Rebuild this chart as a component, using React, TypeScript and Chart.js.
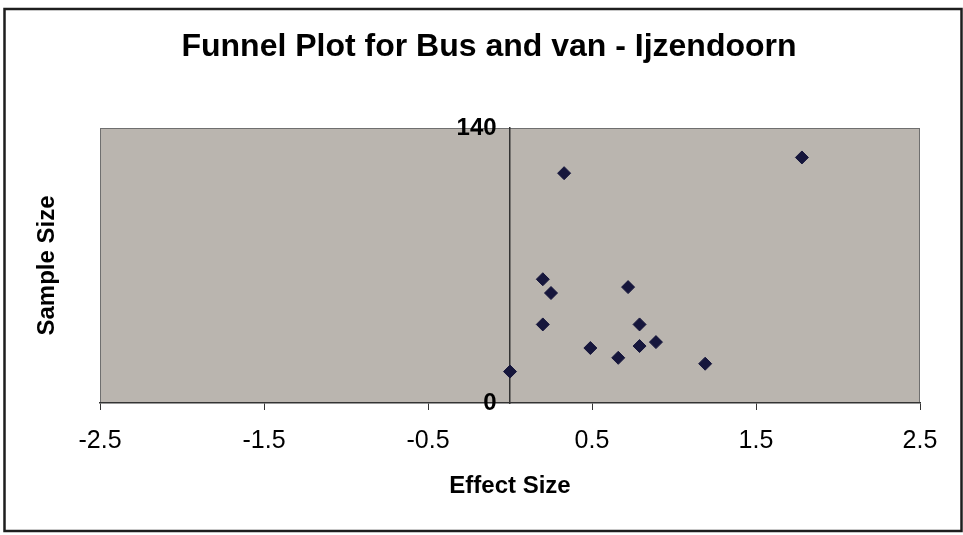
import React, { useEffect, useRef } from "react";
import { Chart, registerables } from "chart.js";

Chart.register(...registerables);

const chartTitle = "Funnel Plot for Bus and van - Ijzendoorn";
const xAxisTitle = "Effect Size";
const yAxisTitle = "Sample Size";
const effectSize = [1.78, 0.33, 0.2, 0.25, 0.72, 0.2, 0.79, 0.79, 0.89, 0.49, 0.66, 1.19, 0.0];
const sampleSize = [125, 117, 63, 56, 59, 40, 40, 29, 31, 28, 23, 20, 16];
const xTicks = [-2.5, -1.5, -0.5, 0.5, 1.5, 2.5];
const yTicks = [0, 140];

const FONT = "Arial, 'Liberation Sans', Helvetica, sans-serif";

const decorPlugin = {
  id: "decor",
  afterLayout(chart: any) {
    // centre the title block a little to the right, as in the reference
    if (chart.titleBlock) {
      chart.titleBlock.left = 58;
      chart.titleBlock.right = 920;
    }
  },
  beforeDraw(chart: any) {
    const { ctx, chartArea } = chart;
    ctx.save();
    ctx.fillStyle = "#ffffff";
    ctx.fillRect(0, 0, chart.width, chart.height);
    ctx.fillStyle = "#bab5af";
    ctx.fillRect(chartArea.left, chartArea.top, chartArea.right - chartArea.left, chartArea.bottom - chartArea.top);
    ctx.strokeStyle = "#6f6f6f";
    ctx.lineWidth = 1;
    ctx.strokeRect(chartArea.left + 0.5, chartArea.top + 0.5, chartArea.right - chartArea.left - 1, chartArea.bottom - chartArea.top - 1);
    // outer frame
    ctx.strokeStyle = "#1e1e1e";
    ctx.lineWidth = 2.5;
    ctx.strokeRect(4.5, 9, chart.width - 6, chart.height - 13);
    ctx.restore();
  },
};

export default function App() {
  const ref = useRef<HTMLCanvasElement | null>(null);
  useEffect(() => {
    if (!ref.current) return;
    const points = effectSize.map((x, i) => ({ x, y: sampleSize[i] }));
    const chart = new Chart(ref.current, {
      type: "scatter",
      data: {
        datasets: [
          {
            data: points,
            xAxisID: "x",
            yAxisID: "y",
            pointStyle: "rectRot",
            radius: 6.5,
            backgroundColor: "#16163c",
            borderColor: "#16163c",
            borderWidth: 1,
          },
        ],
      },
      options: {
        responsive: false,
        animation: false,
        layout: { padding: { left: 0, right: 43, top: 0, bottom: 0 } },
        plugins: {
          legend: { display: false },
          tooltip: { enabled: false },
          title: {
            display: true,
            text: chartTitle,
            color: "#000",
            font: { family: FONT, size: 32, weight: "bold", lineHeight: 1.2 },
            padding: { top: 28, bottom: 61.6 },
          },
        },
        scales: {
          x: {
            type: "linear",
            position: "bottom",
            min: -2.5,
            max: 2.5,
            afterBuildTicks: (scale: any) => {
              scale.ticks = xTicks.map((v) => ({ value: v }));
            },
            afterFit: (scale: any) => {
              scale.height = 132;
            },
            grid: { drawOnChartArea: false, drawTicks: true, tickLength: 7, color: "#333", lineWidth: 1 },
            border: { display: true, color: "#333", width: 1.5 },
            ticks: {
              color: "#000",
              font: { family: FONT, size: 25 },
              padding: 16,
              maxRotation: 0,
              autoSkip: false,
              callback: (v: any) => String(v),
            },
            title: {
              display: true,
              text: xAxisTitle,
              color: "#000",
              font: { family: FONT, size: 24, weight: "bold", lineHeight: 1.2 },
              padding: { top: 0, bottom: 34 },
            },
          },
          y: {
            type: "linear",
            position: { x: 0 },
            min: 0,
            max: 140,
            afterBuildTicks: (scale: any) => {
              scale.ticks = yTicks.map((v) => ({ value: v }));
            },
            grid: { display: false, drawOnChartArea: false, drawTicks: false },
            border: { display: true, color: "#333", width: 1.5 },
            ticks: {
              color: "#000",
              font: { family: FONT, size: 24, weight: "bold" },
              padding: 14,
              callback: (v: any) => String(v) + "  ",
            },
          },
          yTitle: {
            type: "linear",
            position: "left",
            min: 0,
            max: 140,
            afterFit: (scale: any) => {
              scale.width = 100;
            },
            grid: { display: false },
            border: { display: false },
            ticks: { display: false },
            title: {
              display: true,
              text: yAxisTitle,
              color: "#000",
              font: { family: FONT, size: 24, weight: "bold", lineHeight: 1.2 },
              padding: { top: 33, bottom: 0 },
            },
          },
        },
      },
      plugins: [decorPlugin],
    } as any);
    return () => chart.destroy();
  }, []);
  return (
    <div style={{ position: "absolute", left: 0, top: 0, width: 963, height: 535 }}>
      <canvas ref={ref} width={963} height={535} style={{ width: 963, height: 535, display: "block" }} />
    </div>
  );
}
